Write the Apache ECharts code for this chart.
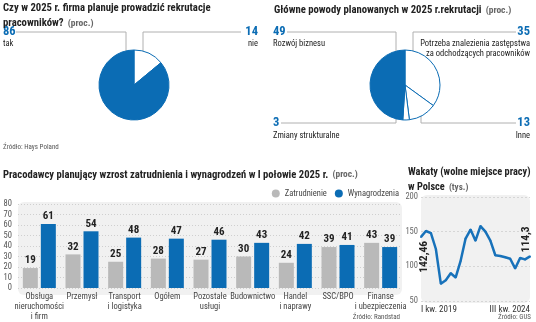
<!DOCTYPE html>
<html>
<head>
<meta charset="utf-8">
<script src="https://cdn.jsdelivr.net/npm/echarts@6/dist/echarts.min.js"></script>
<style>
  html, body { margin: 0; padding: 0; background: #fff; }
  #chart { width: 536px; height: 322px; }
</style>
</head>
<body>
<div id="chart"></div>
<script>
// Recruitment plans for 2025
const recruitNames = ['nie', 'tak'];
const recruitValues = [14, 86];

// Main reasons for recruitment
const reasonNames = ['Potrzeba znalezienia zastępstwa\nza odchodzących pracowników', 'Inne', 'Zmiany strukturalne', 'Rozwój biznesu'];
const reasonValues = [35, 13, 3, 49];

// Employers planning growth, H1 2025
const sectors = ['Obsługa\nnieruchomości\ni firm', 'Przemysł', 'Transport\ni logistyka', 'Ogółem', 'Pozostałe\nusługi', 'Budownictwo', 'Handel\ni naprawy', 'SSC/BPO', 'Finanse\ni ubezpieczenia'];
const employment = [19, 32, 25, 28, 27, 30, 24, 39, 43];
const wages = [61, 54, 48, 47, 46, 43, 42, 41, 39];
const barTicks = [0, 10, 20, 30, 40, 50, 60, 70, 80];

// Job vacancies in Poland (thousands), quarterly
const quarters = [
  'I kw. 2019', 'II kw. 2019', 'III kw. 2019', 'IV kw. 2019',
  'I kw. 2020', 'II kw. 2020', 'III kw. 2020', 'IV kw. 2020',
  'I kw. 2021', 'II kw. 2021', 'III kw. 2021', 'IV kw. 2021',
  'I kw. 2022', 'II kw. 2022', 'III kw. 2022', 'IV kw. 2022',
  'I kw. 2023', 'II kw. 2023', 'III kw. 2023', 'IV kw. 2023',
  'I kw. 2024', 'II kw. 2024', 'III kw. 2024'
];
const vacancies = [142.46, 151, 148, 125, 75, 80, 90, 84, 108, 140, 153, 137, 158, 150, 137, 116, 115, 113, 111, 97, 112, 110, 114.3];
const lineTicks = [50, 100, 150, 200];

const FONT = "'Roboto Condensed', 'Open Sans Condensed', sans-serif";
const BLUE = '#0b6cb4';
const LINE_BLUE = '#1872ba';
const GREY = '#b9b9b9';
const INK = '#222';
const SUB = '#666';
const LEADER = '#b0b0b0';
const PANEL = '#f1f1f1';

// plot-area boxes
const BAR_BOX = { left: 18, top: 204, width: 384, height: 89 };
const LINE_BOX = { left: 421, top: 197, width: 109, height: 104 };

const fmt = v => String(v).replace('.', ',');

function txt(x, y, text, o) {
  return {
    type: 'text', x, y, silent: true,
    style: Object.assign({
      text, fontFamily: FONT, fontSize: 8.5, fill: INK,
      align: 'left', verticalAlign: 'middle'
    }, o || {})
  };
}
function leader(points) {
  return { type: 'polyline', silent: true, shape: { points }, style: { stroke: LEADER, lineWidth: 1, fill: null } };
}
function panel(box) {
  return {
    type: 'rect', silent: true, z: -10,
    shape: { x: box.left, y: box.top - 2, width: box.width, height: box.height + 4, r: 6 },
    style: { fill: PANEL }
  };
}
const big = (extra) => Object.assign({ fontSize: 12.5, fontWeight: 'bold', fill: BLUE }, extra || {});

function pieData(names, values, filled) {
  return values.map((v, i) => ({
    name: names[i], value: v,
    itemStyle: { color: names[i] === filled ? BLUE : '#fff', borderColor: BLUE, borderWidth: 1 }
  }));
}

const titleRich = (size) => ({
  b: { fontFamily: FONT, fontSize: size, fontWeight: 'bold', color: INK, lineHeight: 13 },
  n: { fontFamily: FONT, fontSize: size - 1.2, color: SUB, lineHeight: 13 }
});

const option = {
  animation: false,
  backgroundColor: '#fff',
  textStyle: { fontFamily: FONT },
  title: [
    { left: 3, top: 1.5, padding: 0, text: '{b|Czy w 2025 r. firma planuje prowadzić rekrutacje}\n{b|pracowników?} {n|(proc.)}', textStyle: { rich: titleRich(10.7) } },
    { left: 274, top: 1.5, padding: 0, text: '{b|Główne powody planowanych w 2025 r.rekrutacji} {n|(proc.)}', textStyle: { rich: titleRich(10.7) } },
    { left: 3, top: 166, padding: 0, text: '{b|Pracodawcy planujący wzrost zatrudnienia i wynagrodzeń w I połowie 2025 r.} {n|(proc.)}', textStyle: { rich: titleRich(10.6) } },
    { left: 408, top: 165.5, padding: 0, text: '{b|Wakaty (wolne miejsce pracy)}\n{b|w Polsce} {n|(tys.)}', textStyle: { rich: titleRich(10.3) } }
  ],
  legend: {
    right: 137, top: 189, padding: 0, itemWidth: 8, itemHeight: 8, itemGap: 8, icon: 'circle',
    textStyle: { fontFamily: FONT, fontSize: 8.5, color: '#444' },
    data: ['Zatrudnienie', 'Wynagrodzenia']
  },
  grid: [
    Object.assign({}, BAR_BOX),
    Object.assign({}, LINE_BOX)
  ],
  xAxis: [
    {
      type: 'category', gridIndex: 0, data: sectors,
      axisLine: { show: false }, axisTick: { show: false },
      axisLabel: { interval: 0, fontFamily: FONT, fontSize: 8.5, lineHeight: 10, color: '#444', margin: 4 }
    },
    {
      type: 'category', gridIndex: 1, data: quarters, boundaryGap: false,
      axisLine: { show: false }, axisTick: { show: false },
      axisLabel: {
        interval: (i) => i === 0 || i === quarters.length - 1,
        alignMinLabel: 'left', alignMaxLabel: 'right',
        fontFamily: FONT, fontSize: 9, color: '#333', margin: 4
      }
    }
  ],
  yAxis: [
    {
      type: 'value', gridIndex: 0, min: barTicks[0], max: barTicks[barTicks.length - 1], interval: 10,
      axisLine: { show: false }, axisTick: { show: false },
      axisLabel: { fontFamily: FONT, fontSize: 8.5, color: '#555', margin: 6 },
      splitLine: { lineStyle: { type: [1, 2], color: '#cfcfcf' } }
    },
    {
      type: 'value', gridIndex: 1, min: lineTicks[0], max: lineTicks[lineTicks.length - 1], interval: 50,
      axisLine: { show: false }, axisTick: { show: false },
      axisLabel: { fontFamily: FONT, fontSize: 8.5, color: '#666', margin: 3 },
      splitLine: { lineStyle: { type: [2, 2], color: '#d6d6d6' } }
    }
  ],
  series: [
    {
      type: 'pie', center: [134, 85], radius: 35, startAngle: 90, clockwise: true, silent: true,
      label: { show: false }, labelLine: { show: false },
      data: pieData(recruitNames, recruitValues, 'tak')
    },
    {
      type: 'pie', center: [405, 85], radius: 35, startAngle: 90, clockwise: true, silent: true,
      label: { show: false }, labelLine: { show: false },
      data: pieData(reasonNames, reasonValues, 'Rozwój biznesu')
    },
    {
      name: 'Zatrudnienie', type: 'bar', xAxisIndex: 0, yAxisIndex: 0, data: employment,
      barWidth: 15, barGap: '20%', itemStyle: { color: GREY },
      label: { show: true, position: 'top', distance: 2, fontFamily: FONT, fontSize: 11, fontWeight: 'bold', color: INK }
    },
    {
      name: 'Wynagrodzenia', type: 'bar', xAxisIndex: 0, yAxisIndex: 0, data: wages,
      barWidth: 15, barGap: '20%', itemStyle: { color: BLUE },
      label: { show: true, position: 'top', distance: 2, fontFamily: FONT, fontSize: 11, fontWeight: 'bold', color: INK }
    },
    {
      type: 'line', xAxisIndex: 1, yAxisIndex: 1, silent: true,
      symbol: 'circle', symbolSize: 2, showSymbol: true,
      itemStyle: { color: LINE_BLUE },
      lineStyle: { color: LINE_BLUE, width: 2.5 },
      data: vacancies.map((v, i) => {
        if (i === 0) {
          return { value: v, label: { show: true, formatter: fmt(v), rotate: 90, position: [4.5, 5], align: 'right', verticalAlign: 'middle' } };
        }
        if (i === vacancies.length - 1) {
          return { value: v, label: { show: true, formatter: fmt(v), rotate: 90, position: [-3, -3], align: 'left', verticalAlign: 'middle' } };
        }
        return v;
      }),
      label: { show: false, fontFamily: FONT, fontSize: 11.5, fontWeight: 'bold', color: INK }
    }
  ],
  graphic: [
    panel(BAR_BOX),
    panel(LINE_BOX),
    // recruitment pie annotations
    txt(3, 32, String(recruitValues[1]), big()),
    txt(3, 44, recruitNames[1]),
    leader([[16, 32], [126, 32], [126, 51]]),
    txt(258, 32, String(recruitValues[0]), big({ align: 'right' })),
    txt(258, 44, recruitNames[0], { align: 'right' }),
    leader([[241, 32], [143, 32], [143, 51]]),
    // reasons pie annotations
    txt(273, 32, String(reasonValues[3]), big()),
    txt(273, 43.5, reasonNames[3]),
    leader([[287, 32], [396, 32], [396, 51]]),
    txt(530, 32, String(reasonValues[0]), big({ align: 'right' })),
    txt(530, 38.5, reasonNames[0], { align: 'right', verticalAlign: 'top', lineHeight: 10 }),
    leader([[516, 32], [413, 32], [413, 51]]),
    txt(273, 123, String(reasonValues[2]), big()),
    txt(273, 136, reasonNames[2]),
    leader([[281, 123], [396, 123], [396, 119]]),
    txt(530, 123, String(reasonValues[1]), big({ align: 'right' })),
    txt(530, 136, reasonNames[1], { align: 'right' }),
    leader([[516, 123], [421, 123], [421, 116]]),
    // sources
    txt(3, 147, 'Źródło: Hays Poland', { fontSize: 7, fill: '#555' }),
    txt(400, 317, 'Źródło: Randstad', { fontSize: 7, fill: '#555', align: 'right' }),
    txt(531, 317, 'Źródło: GUS', { fontSize: 7, fill: '#555', align: 'right' })
  ]
};

const chart = echarts.init(document.getElementById('chart'), null, { renderer: 'canvas' });
chart.setOption(option);
</script>
</body>
</html>
